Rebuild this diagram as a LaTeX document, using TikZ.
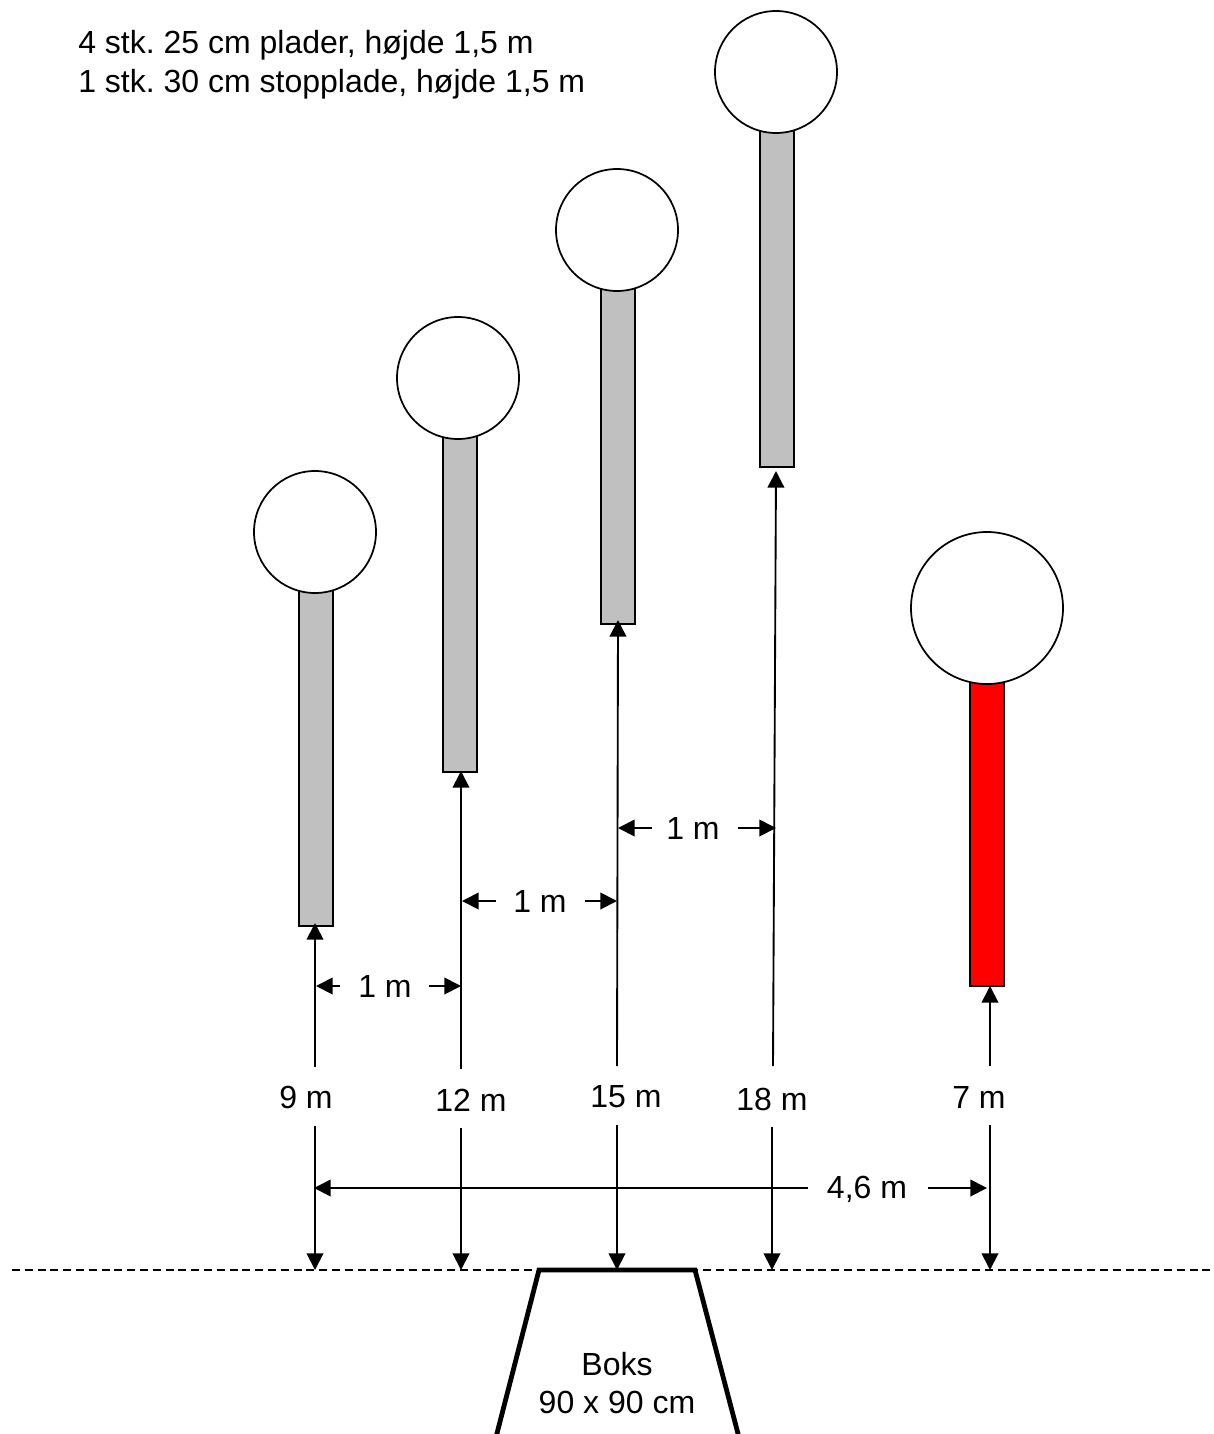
\documentclass[tikz,border=0pt]{standalone}
\usepackage{fontspec}
\setmainfont{Liberation Sans}
\usetikzlibrary{arrows.meta}
\definecolor{plategray}{RGB}{192,192,192}
\frenchspacing
\tikzset{
 x=0.75pt,y=-0.75pt,
 plate/.style={draw=black,line width=1.3pt,fill=#1},
 ball/.style={circle,draw=black,line width=1.3pt,fill=white,inner sep=0pt,minimum size=#1*0.75pt},
 dim/.style={draw=black,line width=1.4pt,-{Triangle[length=12.5pt,width=12.5pt]}},
 lab/.style={font=\fontsize{24}{29}\selectfont,inner sep=0pt,align=center},
}
\begin{document}
\begin{tikzpicture}
\useasboundingbox (0,0) rectangle (1213,1434);
\node[lab,align=left,anchor=north west] (title) at (78,30) {4 stk. 25 cm plader, højde 1,5 m\\1 stk. 30 cm stopplade, højde 1,5 m};
% plates
\path[plate=plategray] (299,590) rectangle (333,926);
\path[plate=plategray] (443,436) rectangle (477,772);
\path[plate=plategray] (601,288) rectangle (635,624);
\path[plate=plategray] (760,131) rectangle (794,467);
\path[plate=red] (970,682) rectangle (1004,986);
\node[ball=122] (b1) at (315,532) {};
\node[ball=122] (b2) at (458,378) {};
\node[ball=122] (b3) at (617,230) {};
\node[ball=122] (b4) at (776,72) {};
\node[ball=152] (b5) at (987,608) {};
% coordinates
\coordinate (p1) at (315,923); \coordinate (s1) at (315,1067); \coordinate (l1) at (315,1126); \coordinate (g1) at (315,1270);
\coordinate (p2) at (461,771); \coordinate (s2) at (461,1069); \coordinate (l2) at (461,1128); \coordinate (g2) at (461,1270);
\coordinate (p3) at (618,620); \coordinate (s3) at (617,1066); \coordinate (l3) at (617,1125); \coordinate (g3) at (617,1270);
\coordinate (p4) at (776,471); \coordinate (s4) at (773,1066); \coordinate (l4) at (772,1127); \coordinate (g4) at (772,1270);
\coordinate (p5) at (990,986); \coordinate (s5) at (990,1066); \coordinate (l5) at (990,1125); \coordinate (g5) at (990,1270);
\draw[dim] (s1) -- (p1); \draw[dim] (l1) -- (g1);
\draw[dim] (s2) -- (p2); \draw[dim] (l2) -- (g2);
\draw[dim] (s3) -- (p3); \draw[dim] (l3) -- (g3);
\draw[dim] (s4) -- (p4); \draw[dim] (l4) -- (g4);
\draw[dim] (s5) -- (p5); \draw[dim] (l5) -- (g5);
\node[lab] (n1) at (306,1097) {9 m};
\node[lab] (n2) at (471,1100) {12 m};
\node[lab] (n3) at (626,1097) {15 m};
\node[lab] (n4) at (772,1099) {18 m};
\node[lab] (n5) at (979,1097) {7 m};
% horizontal
\node[lab] (m1) at (385,986) {1 m};
\node[lab] (m2) at (540,901) {1 m};
\node[lab] (m3) at (693,828) {1 m};
\node[lab] (m4) at (867,1189) {4,6 m};
\coordinate (a1) at (340,986); \coordinate (b6) at (429,986);
\coordinate (a2) at (496,901); \coordinate (b7) at (585,901);
\coordinate (a3) at (652,828); \coordinate (b8) at (738,828);
\coordinate (a4) at (808,1188); \coordinate (b9) at (928,1188);
\draw[dim] (a1) -- (316,986);
\draw[dim] (b6) -- (461,986);
\draw[dim] (a2) -- (462,901);
\draw[dim] (b7) -- (617,901);
\draw[dim] (a3) -- (618,828);
\draw[dim] (b8) -- (776,828);
\draw[dim] (a4) -- (314,1188);
\draw[dim] (b9) -- (987,1188);
% ground
\draw[draw=black,line width=1pt,dash pattern=on 6pt off 3.6pt] (12,1270) coordinate (gl) -- (1213,1270) coordinate (gr);
% box
\clip (0,0) rectangle (1213,1434);
\draw[draw=black,line width=3.6pt,line join=miter] (494,1445) coordinate (k1) -- (539,1270) coordinate (k2) -- (695,1270) coordinate (k3) -- (741,1445) coordinate (k4);
\node[lab] (boks) at (617,1383) {Boks\\90 x 90 cm};
\end{tikzpicture}
\end{document}
